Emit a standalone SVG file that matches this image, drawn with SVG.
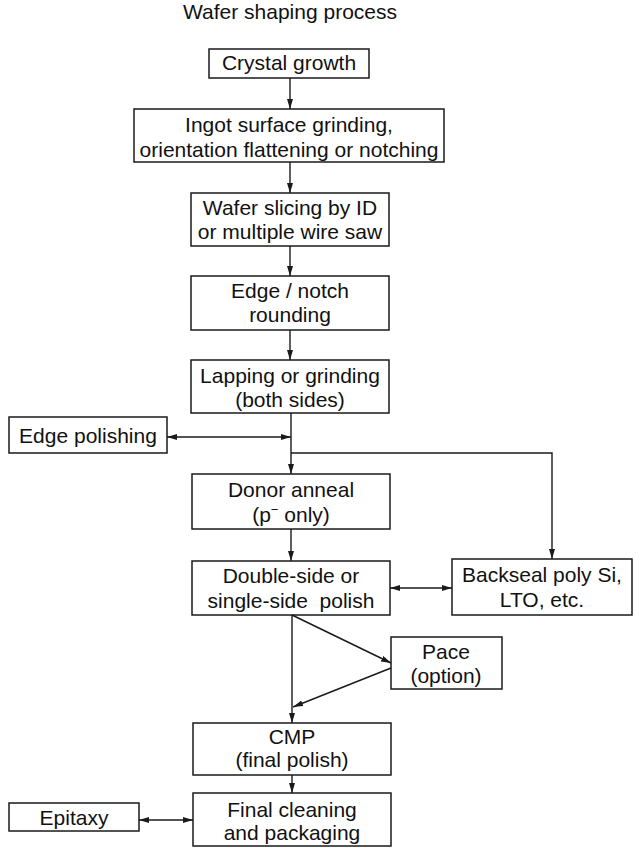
<svg xmlns="http://www.w3.org/2000/svg" width="640" height="848" viewBox="0 0 640 848">
  <style>
    .box { fill: #ffffff; stroke: #1a1a1a; stroke-width: 1.5; }
    .lbl { font-family: "Liberation Sans", Arial, Helvetica, sans-serif; font-size: 21px; fill: #111111; text-anchor: middle; }
    .wire { fill: none; stroke: #1a1a1a; stroke-width: 1.4; }
  </style>
  <defs>
    <marker id="head" viewBox="0 0 10 6" refX="10" refY="3" markerWidth="10" markerHeight="6" markerUnits="userSpaceOnUse" orient="auto-start-reverse">
      <path d="M0,0 L10,3 L0,6 Z" fill="#1a1a1a"/>
    </marker>
  </defs>
  <rect width="640" height="848" fill="#ffffff"/>

  <text class="lbl" x="290" y="19">Wafer shaping process</text>

  <!-- process steps -->
  <g id="crystal-growth">
    <rect class="box" x="209" y="49" width="160" height="29"/>
    <text class="lbl" x="289" y="70">Crystal growth</text>
  </g>
  <g id="ingot-grinding">
    <rect class="box" x="134" y="109" width="310" height="53"/>
    <text class="lbl" x="289" y="132">Ingot surface grinding,</text>
    <text class="lbl" x="289" y="157">orientation flattening or notching</text>
  </g>
  <g id="wafer-slicing">
    <rect class="box" x="191" y="193" width="198" height="53"/>
    <text class="lbl" x="290" y="215">Wafer slicing by ID</text>
    <text class="lbl" x="290" y="239">or multiple wire saw</text>
  </g>
  <g id="edge-rounding">
    <rect class="box" x="191" y="276" width="198" height="54"/>
    <text class="lbl" x="290" y="298">Edge / notch</text>
    <text class="lbl" x="290" y="322">rounding</text>
  </g>
  <g id="lapping">
    <rect class="box" x="191" y="360" width="198" height="53"/>
    <text class="lbl" x="290" y="383">Lapping or grinding</text>
    <text class="lbl" x="290" y="407">(both sides)</text>
  </g>
  <g id="edge-polishing">
    <rect class="box" x="9" y="417" width="158" height="36"/>
    <text class="lbl" x="88" y="443">Edge polishing</text>
  </g>
  <g id="donor-anneal">
    <rect class="box" x="192" y="474" width="198" height="55"/>
    <text class="lbl" x="291" y="497">Donor anneal</text>
    <text class="lbl" x="291" y="522">(p<tspan font-size="13" dy="-8">−</tspan><tspan dy="8"> only)</tspan></text>
  </g>
  <g id="polish">
    <rect class="box" x="192" y="561" width="198" height="54"/>
    <text class="lbl" x="291" y="583">Double-side or</text>
    <text class="lbl" x="291" y="608">single-side&#160; polish</text>
  </g>
  <g id="backseal">
    <rect class="box" x="452" y="559" width="180" height="56"/>
    <text class="lbl" x="542" y="582">Backseal poly Si,</text>
    <text class="lbl" x="542" y="607">LTO, etc.</text>
  </g>
  <g id="pace">
    <rect class="box" x="391" y="637" width="111" height="52"/>
    <text class="lbl" x="446" y="659">Pace</text>
    <text class="lbl" x="446" y="683">(option)</text>
  </g>
  <g id="cmp">
    <rect class="box" x="193" y="723" width="198" height="52"/>
    <text class="lbl" x="292" y="744">CMP</text>
    <text class="lbl" x="292" y="767">(final polish)</text>
  </g>
  <g id="final-cleaning">
    <rect class="box" x="193" y="793" width="198" height="53"/>
    <text class="lbl" x="292" y="817">Final cleaning</text>
    <text class="lbl" x="292" y="840">and packaging</text>
  </g>
  <g id="epitaxy">
    <rect class="box" x="9" y="803" width="130" height="28"/>
    <text class="lbl" x="74" y="825">Epitaxy</text>
  </g>

  <!-- connectors -->
  <g id="connectors" class="wire">
    <path d="M290,78 V109" marker-end="url(#head)"/>
    <path d="M290,162 V193" marker-end="url(#head)"/>
    <path d="M290,246 V276" marker-end="url(#head)"/>
    <path d="M290,330 V360" marker-end="url(#head)"/>
    <path d="M291,413 V474" marker-end="url(#head)"/>
    <path d="M167,437 H291" marker-start="url(#head)" marker-end="url(#head)"/>
    <path d="M291,453 H552 V559" marker-end="url(#head)"/>
    <path d="M291,529 V561" marker-end="url(#head)"/>
    <path d="M390,588 H452" marker-start="url(#head)" marker-end="url(#head)"/>
    <path d="M292,615 V723" marker-end="url(#head)"/>
    <path d="M292,615 L391,663" marker-end="url(#head)"/>
    <path d="M391,668 L293,707" marker-end="url(#head)"/>
    <path d="M292,775 V793" marker-end="url(#head)"/>
    <path d="M139,820 H193" marker-start="url(#head)" marker-end="url(#head)"/>
  </g>
</svg>
